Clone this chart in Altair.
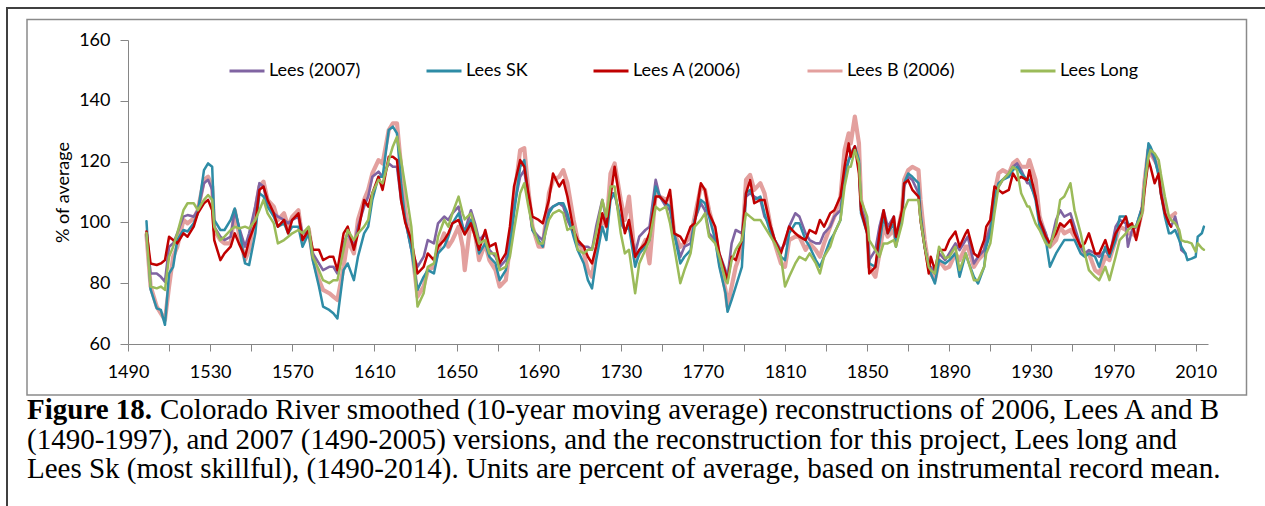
import altair as alt
import pandas as pd

# Sample years (centre of the 10-year window) shared by all series
YEARS = [
    1499, 1501, 1504, 1506, 1508, 1510, 1512, 1514, 1517, 1519,
    1522, 1524, 1527, 1529, 1531, 1532, 1535, 1537, 1540, 1542,
    1544, 1547, 1549, 1552, 1554, 1556, 1558, 1561, 1563, 1566,
    1568, 1570, 1573, 1575, 1578, 1580, 1583, 1585, 1588, 1590,
    1592, 1595, 1597, 1600, 1602, 1605, 1607, 1609, 1612, 1614,
    1617, 1619, 1621, 1623, 1625, 1628, 1631, 1634, 1636, 1639,
    1641, 1644, 1646, 1648, 1651, 1653, 1654, 1657, 1659, 1661,
    1664, 1666, 1669, 1671, 1674, 1676, 1678, 1681, 1683, 1685,
    1687, 1690, 1692, 1695, 1697, 1700, 1702, 1704, 1707, 1709,
    1712, 1714, 1716, 1718, 1721, 1723, 1725, 1727, 1730, 1732,
    1734, 1737, 1739, 1742, 1744, 1747, 1749, 1752, 1754, 1756,
    1759, 1761, 1764, 1766, 1769, 1771, 1773, 1776, 1778, 1781,
    1782, 1784, 1786, 1789, 1791, 1793, 1795, 1798, 1800, 1803,
    1805, 1808, 1810, 1812, 1815, 1817, 1820, 1822, 1825, 1827,
    1829, 1832, 1834, 1837, 1839, 1841, 1842, 1844, 1846, 1847,
    1850, 1851, 1854, 1856, 1858, 1860, 1863, 1864, 1867, 1868,
    1870, 1872, 1875, 1876, 1878, 1880, 1881, 1883, 1885, 1888,
    1890, 1893, 1895, 1898, 1899, 1902, 1904, 1907, 1908, 1910,
    1912, 1914, 1916, 1919, 1921, 1923, 1925, 1928, 1929, 1932,
    1934, 1937, 1939, 1942, 1944, 1946, 1949, 1951, 1954, 1956,
    1958, 1961, 1963, 1966, 1968, 1971, 1973, 1976, 1977, 1979,
    1981, 1984, 1985, 1987, 1988, 1990, 1992, 1993, 1995, 1997,
    1998, 2000, 2002, 2003, 2005, 2006, 2008, 2010, 2011, 2013,
    2014,
]

# Percent of average, 10-year moving average (None = outside the record)
LEES_2007 = [
    96, 83.2, 83.2, 82.1, 80.5, 92, 93.1, 96.4, 101.9, 102.4,
    101.9, 104, 112.9, 114, 110.7, 98.6, 95.3, 94.2, 95.3, 104,
    98.6, 92, 96.4, 105.2, 112.9, 111.8, 105.2, 103, 101.9, 100.8,
    99.7, 100.8, 101.9, 96.4, 97.5, 89.8, 86.5, 84.3, 85.4, 85.4,
    83.2, 93.1, 96.4, 92, 98.6, 105.2, 108.5, 115, 116.7, 115,
    119.4, 118.3, 118.3, 107.4, 101, 91, 85.4, 88.7, 94.2, 93.1,
    99.7, 101.9, 100.8, 103, 105.2, 98.6, 97, 104, 99.7, 94.2,
    96.4, 91, 88.7, 85.4, 87.6, 94.2, 105.2, 115, 117.2, 107.4,
    97.5, 95.3, 94.2, 104, 105.2, 106.3, 105.2, 100.8, 96.4, 93.1,
    92, 92, 91, 98.6, 107.4, 100.8, 109.6, 109.6, 99.7, 97.5,
    98.6, 89.8, 95.3, 97.5, 98.6, 114, 108.5, 105.2, 104, 96.4,
    88.7, 92, 93.1, 100.8, 106.3, 104, 96.4, 94.2, 89.8, 84.3,
    82.1, 93.1, 97.5, 96.4, 108.5, 109.6, 108.5, 107.4, 101.9, 98.6,
    94.2, 90.9, 93.1, 98.6, 103, 101.9, 96.4, 94.2, 93.1, 93.1,
    96.4, 98.6, 101.9, 104, 114, 120.5, 122.7, 125, 119.4, 105.2,
    98.6, 87.6, 90.9, 98.6, 104, 98.6, 101.9, 94.2, 103, 111.8,
    115, 114, 109.6, 100.8, 92, 85.4, 85.4, 83.2, 89.8, 87.6,
    89.8, 93.1, 90.9, 94.2, 95.3, 86.5, 88.7, 90.9, 94.2, 98.6,
    108.5, 111.8, 114, 116.1, 118.3, 119.4, 117.2, 112.9, 112.9, 108.5,
    100.8, 96.4, 92, 100.8, 104, 101.9, 103, 98.6, 92, 89.8,
    90.9, 89.8, 88.7, 90.9, 88.7, 98.6, 100.8, 99.7, 92, 97.5,
    98.6, 105.2, 111.8, 125, 123.8, 120.5, 116.1, 110.7, 103, 99.7,
    98.6, 101.9, 96.4, 90.9, 89.8, None, None, None, None, None,
    None,
]

LEES_SK = [
    100.4, 78, 71.7, 71.2, 66.3, 83.2, 85.4, 94.2, 97.5, 97,
    99.7, 103, 117.2, 119.4, 118.3, 100.8, 97.5, 97.5, 100.8, 104.6,
    98.6, 86.5, 86, 96.4, 109.6, 108.5, 105.2, 101.9, 98.6, 99.7,
    96.4, 98.6, 98.6, 92, 96.4, 87.6, 78.9, 72.3, 71.2, 70.1,
    68.4, 84.3, 86.5, 81, 88.7, 96.4, 98.6, 107.4, 115, 115,
    130.4, 131.5, 129.3, 112.9, 101, 91, 77.8, 82.1, 84.3, 83.2,
    89.8, 92, 95.3, 99.7, 103, 98.6, 97, 100.8, 96.4, 89.8,
    93.1, 88.7, 86.5, 81, 84.3, 92, 103, 118.3, 120.5, 108.5,
    97.5, 94.2, 92, 103, 105.2, 106.3, 106.3, 103, 95.3, 90.9,
    86.5, 81, 78.3, 87.6, 98.6, 94.2, 107.4, 109.6, 100.8, 97.5,
    98.6, 85.4, 89.8, 92, 94.2, 111.8, 108.5, 106.3, 105.2, 96.4,
    86.5, 88.7, 90.9, 100.8, 107.4, 106.3, 101.9, 94.2, 85.4, 76.7,
    70.6, 74.5, 78.9, 85.4, 109.6, 110.7, 107.4, 108.5, 103, 96.4,
    94.2, 88.7, 87.6, 96.4, 99.7, 99.7, 94.2, 92, 87.6, 85.4,
    88.7, 94.2, 96.4, 100.8, 116.1, 120.5, 121.6, 124.9, 120.5, 103,
    96.4, 86.5, 85.4, 93.1, 101.9, 96.4, 99.7, 92, 101.9, 112.9,
    116.1, 115, 112.9, 103, 92, 85.4, 83.2, 79.9, 87.6, 86.5,
    87.6, 89.8, 82.1, 89.8, 87.6, 82.1, 79.9, 85.4, 92, 96.4,
    108.5, 112.9, 114, 115, 117.2, 118.3, 116.1, 114, 114, 107.4,
    98.6, 94.2, 85.4, 89.8, 92, 94.2, 94.2, 94.2, 89.8, 88.7,
    89.8, 88.7, 85.4, 92, 88.7, 94.2, 101.9, 101.9, 99.7, 98.6,
    98.6, 105.2, 111.8, 126, 124.9, 121.6, 115, 109.6, 101.9, 96.4,
    96.4, 97.5, 94.2, 92, 89.8, 87.6, 88.1, 88.7, 95.3, 96.4,
    98.6,
]

LEES_A = [
    97, 86.5, 86, 86.5, 87.6, 95.3, 94.2, 93.1, 96.4, 95.3,
    98.6, 103, 106.3, 107.4, 104, 94.2, 87.6, 89.8, 92, 96.4,
    93.1, 88.7, 94.2, 99.7, 110.7, 111.8, 107.4, 103, 98.6, 100.8,
    96.4, 100.8, 103, 94.2, 97.5, 91, 91, 87.6, 88.7, 88.7,
    84.3, 96.4, 98.6, 91, 96.4, 107.4, 105.2, 109.6, 115, 110.7,
    121.6, 121.6, 120.5, 107.4, 100, 94.2, 83.2, 85.4, 89.8, 87.6,
    92, 94.2, 96.4, 99.7, 100.8, 97.5, 96, 99.7, 95.3, 91,
    97.5, 92, 93.1, 86.5, 89.8, 98.6, 111.8, 120.5, 118.3, 109.6,
    101.9, 100.8, 99.7, 107.4, 116.1, 111.8, 113.9, 108.5, 97.5, 94.2,
    92, 88.7, 86.5, 92, 103, 98.6, 108.5, 118.3, 105.2, 96.4,
    100.8, 88.7, 91, 93.1, 96.4, 108.5, 108.5, 106.3, 110.7, 96.4,
    95.3, 93.1, 98.6, 99.7, 112.9, 110.7, 103, 98.6, 89.8, 83.2,
    81, 88.7, 87.6, 94.2, 109.6, 113.9, 106.3, 107.4, 107.4, 98.6,
    94.2, 89.8, 94.2, 98.6, 96.4, 95.3, 94.2, 97.5, 96.4, 100.8,
    98.6, 103, 104, 108.5, 118.3, 126, 121.6, 125, 116.1, 104,
    96.4, 83.2, 85.4, 96.4, 104, 96.4, 101.9, 95.3, 104, 112.9,
    113.9, 110.7, 108.5, 100.8, 92, 83.2, 88.7, 84.3, 90.9, 90.9,
    94.2, 97, 92, 96.4, 97.5, 89.8, 88.7, 94.2, 98.6, 100.8,
    111.8, 110.7, 109.6, 110.7, 116.1, 113.9, 115, 113.9, 117.2, 108.5,
    100.8, 95.3, 93.1, 96.4, 99.7, 98.6, 100.8, 96.4, 92, 93.1,
    96.4, 89.8, 89.8, 94.2, 89.8, 96.4, 98.6, 101.9, 98.6, 99.7,
    94.2, 104, 110, 120.5, 118.3, 112.9, 116.1, 109.6, 103, 99.7,
    98.6, None, None, None, None, None, None, None, None, None,
    None,
]

LEES_B = [
    96, 79, 72.3, 70.1, 67.9, 78.9, 88.7, 92, 100.8, 99.7,
    101.3, 104, 114, 115, 111.8, 97.5, 94.2, 93.1, 93.1, 104,
    96.4, 87.6, 91, 104, 111.8, 113.4, 107.4, 105.2, 100.8, 103,
    98.6, 101.9, 104, 94.2, 98, 88.7, 81, 77.8, 76.7, 75.6,
    74.5, 85.4, 94.2, 89.8, 100.8, 107.4, 110.7, 116.1, 120.5, 119.4,
    130.4, 132.6, 132.6, 118.3, 104, 93.1, 75.6, 78.9, 84.3, 85.4,
    91, 96.4, 92, 94.2, 98.6, 92, 84.3, 100.8, 96.4, 87.6,
    93.1, 87.6, 84.3, 78.9, 81, 92, 107.4, 123.8, 124.4, 110.7,
    98.6, 92, 92, 109.6, 114, 115, 117.2, 112.9, 100.8, 94.2,
    89.8, 84.3, 82.1, 91, 101.9, 98.6, 116.1, 119.4, 107.4, 100.8,
    108.5, 87.6, 89.8, 94.2, 86.5, 109.6, 108.5, 107.4, 108.5, 96.4,
    92, 93.1, 95.3, 101.9, 111.8, 110.7, 104, 96.4, 87.6, 77.8,
    72.3, 78.9, 85.4, 91, 114, 115.6, 110.7, 112.9, 109.6, 98.6,
    93.1, 86.5, 85.4, 94.2, 95.3, 95.3, 91, 93.1, 90.9, 88.7,
    93.1, 98.6, 101.9, 108.5, 123.8, 129.3, 126, 134.8, 126, 107.4,
    98.6, 85.4, 82.1, 89.8, 98.6, 95.3, 97.5, 94.2, 104, 114,
    117.2, 118.3, 117.2, 107.4, 94.2, 85.4, 83.2, 81, 87.6, 84.8,
    85.4, 89.8, 87.6, 92, 92, 85.4, 87.6, 89.8, 94.2, 98.6,
    109.6, 116.1, 117.2, 116.1, 119.4, 120.5, 118.3, 118.3, 120.5, 114,
    101.9, 95.3, 92, 94.2, 98.6, 96.4, 97.5, 95.3, 90.9, 89.8,
    89.8, 84.3, 83.2, 88.7, 87.6, 94.2, 98.6, 97.5, 96.4, 96.4,
    95.3, 104, 113, 123.8, 122.7, 120.5, 118.3, 111.8, 104, 100.8,
    101.9, 103, None, None, None, None, None, None, None, None,
    None,
]

LEES_LONG = [
    96.5, 78.9, 78.3, 78.9, 77.8, 88.7, 92, 96.4, 104, 106.3,
    106.3, 104, 107.4, 109, 107.4, 98.6, 94.2, 95.3, 97.5, 98.6,
    98, 98.6, 98, 100.8, 104, 107.4, 103, 99.7, 93.1, 94.2,
    95.3, 96.4, 97.5, 96.4, 98.6, 88.7, 84.3, 81, 80, 81,
    81, 91, 97.5, 94.2, 96.4, 98.6, 100.8, 109.6, 114, 112.9,
    120.5, 125, 128.2, 120.5, 112, 98.6, 72.3, 76.7, 85.4, 86.5,
    95.3, 100.8, 98.6, 103, 108.5, 103, 101, 103, 98.6, 93.1,
    94.2, 89.8, 89.8, 84.3, 85.4, 88.7, 97.5, 109.6, 112.9, 105.2,
    98.6, 93.1, 93.1, 100.8, 103, 104, 103, 97.5, 98.6, 91,
    89.8, 91, 91, 96.4, 107.4, 101.9, 111.8, 111.8, 96.4, 89.8,
    91, 76.7, 86.5, 91, 94.2, 105.2, 104, 105.2, 99.7, 92,
    80, 84.3, 89.8, 98.6, 100.8, 103, 95.3, 93.1, 88.7, 81,
    80, 87.6, 91, 94.2, 103, 101.9, 100.8, 100.8, 98.6, 95.3,
    93.1, 88.7, 78.9, 82.1, 86.5, 88.7, 87.6, 89.8, 86.5, 83.2,
    88.7, 92, 96.4, 100.8, 111.8, 118.3, 118.3, 123.8, 119.4, 107.4,
    101.9, 94.2, 90.9, 88.7, 93.1, 93.1, 94.2, 92, 99.7, 104,
    107.4, 107.4, 107.4, 100.8, 92, 85.4, 84.3, 83.2, 92, 88.2,
    88.7, 92, 84.3, 89.8, 87.6, 81, 81, 85.4, 89.8, 93.1,
    103, 111.8, 114, 116.1, 118.3, 117.2, 109.6, 105.2, 105.2, 99.7,
    97.5, 93.1, 92, 98.6, 107.4, 108.5, 112.9, 104, 96.4, 89.8,
    84.3, 82.1, 81, 85.4, 81, 88.7, 94.2, 96.4, 97.5, 98.6,
    98.6, 103, 111.8, 121.6, 123.8, 122.7, 120.5, 116.1, 108.5, 101.9,
    100.8, 99.7, 97.5, 94.2, 93.6, 93.6, 93.1, 90.4, 93.1, 91.5,
    91,
]

SERIES = ["Lees (2007)", "Lees SK", "Lees A (2006)", "Lees B (2006)", "Lees Long"]
COLORS = ["#8064A2", "#2E8CA6", "#C00000", "#E3A09E", "#9BBB59"]
VALUES = [LEES_2007, LEES_SK, LEES_A, LEES_B, LEES_LONG]

for vals in VALUES:
    assert len(vals) == len(YEARS)

rows = []
for name, vals in zip(SERIES, VALUES):
    for yr, v in zip(YEARS, vals):
        if v is not None:
            rows.append({"year": yr, "value": v, "series": name})
df = pd.DataFrame(rows)

CAPTION_BOLD = "Figure 18."
CAPTION_LINES = [
    "Colorado River smoothed (10-year moving average) reconstructions of 2006, Lees A and B",
    "(1490-1997), and 2007 (1490-2005) versions, and the reconstruction for this project, Lees long and",
    "Lees Sk (most skillful), (1490-2014). Units are percent of average, based on instrumental record mean.",
]

PLOT_W, PLOT_H = 1080, 304
AXIS_GREY = "#868686"
FONT = "Lato"

x_enc = alt.X(
    "year:Q",
    scale=alt.Scale(domain=[1490, 2016], nice=False, zero=False),
    axis=alt.Axis(
        values=list(range(1490, 2011, 20)),
        format="d",
        labelExpr="(datum.value - 1490) % 40 == 0 ? datum.label : ''",
        grid=False,
        domainColor=AXIS_GREY,
        tickColor=AXIS_GREY,
        tickSize=7,
        labelFont=FONT,
        labelFontSize=18,
        labelColor="black",
        labelPadding=12,
        labelFlush=False,
        labelOverlap=False,
        title=None,
    ),
)
y_enc = alt.Y(
    "value:Q",
    scale=alt.Scale(domain=[60, 160], nice=False, zero=False),
    axis=alt.Axis(
        values=[60, 80, 100, 120, 140, 160],
        grid=False,
        domainColor=AXIS_GREY,
        tickColor=AXIS_GREY,
        tickSize=8,
        labelFont=FONT,
        labelFontSize=18,
        labelColor="black",
        labelPadding=10,
        title="% of average",
        titleFont=FONT,
        titleFontSize=18,
        titleFontWeight="normal",
        titleColor="black",
        titleAngle=270,
        titleX=-65,
        titleY=152,
        titleAlign="center",
        titleBaseline="middle",
    ),
)
color_enc = alt.Color(
    "series:N",
    scale=alt.Scale(domain=SERIES, range=COLORS),
    legend=alt.Legend(
        orient="none",
        legendX=100,
        legendY=12,
        direction="horizontal",
        title=None,
        symbolType="stroke",
        symbolSize=1225,
        symbolStrokeWidth=3,
        labelFont=FONT,
        labelFontSize=18,
        labelColor="black",
        labelOffset=3,
        columnPadding=59,
    ),
)

base = alt.Chart(df)
# Draw order: wide pink underneath, then the others, green on top
draw = [("Lees B (2006)", 4.2), ("Lees (2007)", 2.6), ("Lees SK", 2.5),
        ("Lees A (2006)", 2.5), ("Lees Long", 2.5)]
lines = [
    base.transform_filter(alt.datum.series == name)
    .mark_line(strokeWidth=w, strokeJoin="round", strokeCap="round")
    .encode(x=x_enc, y=y_enc, color=color_enc)
    for name, w in draw
]

one = pd.DataFrame({"k": [0]})
# Chart-area frame and outer figure frame
inner_frame = alt.Chart(one).mark_rect(fillOpacity=0, stroke="#8a8a8a", strokeWidth=1.5).encode(
    x=alt.value(-101), x2=alt.value(1118.5), y=alt.value(-20.5), y2=alt.value(355)
)
outer_frame = alt.Chart(one).mark_rect(fillOpacity=0, stroke="#404040", strokeWidth=2).encode(
    x=alt.value(-121), x2=alt.value(1160), y=alt.value(-32), y2=alt.value(490)
)

cap_font = "Liberation Serif"
cap_size = 29
cap_bold = alt.Chart(one).mark_text(
    text=CAPTION_BOLD, font=cap_font, fontSize=cap_size, fontWeight="bold",
    align="left", baseline="alphabetic", color="black",
).encode(x=alt.value(-101), y=alt.value(379))
cap_layers = [cap_bold]
cap_pos = [(32, 379), (-101, 408.5), (-101, 438)]
for text, (cx, cy) in zip(CAPTION_LINES, cap_pos):
    cap_layers.append(
        alt.Chart(one).mark_text(
            text=text, font=cap_font, fontSize=cap_size,
            align="left", baseline="alphabetic", color="black",
        ).encode(x=alt.value(cx), y=alt.value(cy))
    )

chart = alt.layer(outer_frame, inner_frame, *lines, *cap_layers).properties(
    width=PLOT_W,
    height=PLOT_H,
    padding={"left": 128, "top": 40, "right": 57, "bottom": 162},
    autosize=alt.AutoSizeParams(type="none"),
    background="white",
).configure_view(strokeWidth=0)

chart.save("out.html", embed_options={"renderer": "svg", "actions": False})
